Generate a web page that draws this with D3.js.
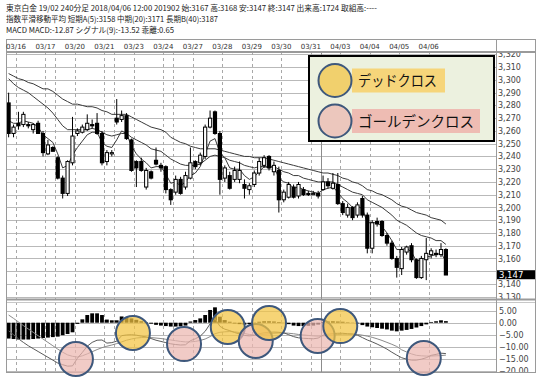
<!DOCTYPE html>
<html><head><meta charset="utf-8">
<script src="https://cdn.jsdelivr.net/npm/d3@7"></script>
<style>body{margin:0;background:#fff;} svg{display:block;}</style>
</head><body>
<svg id="chart" width="544" height="385"></svg>
<script>
// ---------------- data ----------------
const headerLines = [
  "東京白金 19/02 240分足 2018/04/06 12:00 201902 始:3167 高:3168 安:3147 終:3147 出来高:1724 取組高:----",
  "指数平滑移動平均 短期A(5):3158 中期(20):3171 長期B(40):3187",
  "MACD MACD:-12.87 シグナル(9):-13.52 乖離:0.65"
];
const dateTickIndex = [1,7,13,19,25,31,37,43,49,55,61,67,73,79,85];
const dateTickLabels = ["03/16","03/17","03/20","03/21","03/23","03/24","03/27","03/28","03/29","03/30","03/31","04/03","04/04","04/05","04/06"];
const dayBreakIndex = [9,21,33];
const monthBreakIndex = [63];

const open = [3282,3258,3266,3265,3265,3261,3266,3258,3242,3247,
3239,3223,3211,3235,3258,3259,3261,3265,3266,3258,
3236,3242,3270,3269,3272,3253,3236,3236,3216,3228,
3237,3233,3232,3214,3212,3222,3216,3223,3236,3235,
3240,3263,3275,3258,3223,3225,3222,3222,3218,3214,
3218,3227,3233,3240,3228,3229,3206,3208,3216,3209,
3214,3211,3210,3211,3214,3220,3215,3218,3203,3194,
3200,3194,3207,3194,3168,3189,3189,3178,3172,3160,
3152,3165,3170,3159,3145,3159,3163,3164,3163,3167];
const high = [3290,3265,3275,3275,3267,3266,3268,3260,3253,3248,
3240,3225,3237,3271,3262,3265,3273,3269,3274,3260,
3245,3245,3285,3276,3274,3254,3237,3239,3231,3229,
3247,3235,3233,3215,3225,3224,3228,3247,3237,3243,
3265,3276,3276,3260,3233,3228,3232,3236,3222,3219,
3229,3239,3241,3241,3236,3232,3214,3220,3218,3220,
3216,3213,3213,3213,3225,3223,3227,3227,3205,3203,
3201,3204,3209,3196,3190,3192,3190,3180,3174,3162,
3169,3170,3172,3160,3162,3176,3168,3167,3172,3168];
const low = [3255,3255,3261,3263,3262,3258,3258,3240,3241,3244,
3222,3207,3209,3233,3256,3258,3260,3262,3257,3233,
3233,3240,3265,3267,3253,3228,3216,3228,3214,3222,
3233,3228,3211,3202,3210,3210,3214,3222,3230,3233,
3238,3262,3257,3210,3220,3214,3220,3219,3207,3210,
3216,3225,3231,3229,3225,3196,3204,3207,3207,3207,
3209,3209,3210,3207,3213,3215,3214,3202,3194,3192,
3190,3192,3192,3164,3164,3185,3177,3170,3159,3145,
3147,3163,3157,3144,3144,3143,3160,3161,3161,3147];
const close = [3258,3263,3264,3273,3264,3265,3258,3243,3249,3244,
3223,3211,3236,3256,3260,3263,3266,3264,3258,3235,
3243,3243,3267,3272,3254,3229,3231,3229,3229,3223,
3234,3231,3214,3206,3222,3211,3225,3235,3232,3241,
3263,3270,3258,3222,3231,3215,3229,3229,3215,3217,
3227,3236,3239,3231,3233,3206,3212,3218,3208,3218,
3210,3210,3211,3209,3220,3217,3219,3203,3196,3200,
3192,3202,3194,3168,3188,3187,3178,3172,3160,3153,
3167,3169,3159,3145,3160,3164,3166,3163,3167,3147];

const ema5 = [3268,3266,3266,3268,3267,3266,3263,3257,3254,3251,
3242,3231,3233,3241,3247,3252,3257,3259,3259,3251,
3248,3247,3253,3260,3258,3248,3242,3238,3235,3231,
3232,3232,3226,3219,3220,3217,3220,3225,3227,3232,
3242,3252,3254,3243,3239,3231,3230,3230,3225,3222,
3224,3228,3232,3231,3232,3223,3220,3219,3215,3216,
3214,3213,3212,3211,3214,3215,3216,3212,3207,3204,
3200,3201,3199,3188,3188,3188,3185,3180,3174,3167,
3167,3168,3165,3158,3159,3161,3162,3163,3164,3158];
const ema20 = [3301,3297,3294,3292,3290,3287,3284,3281,3278,3274,
3269,3264,3261,3261,3261,3261,3261,3262,3261,3259,
3257,3256,3257,3258,3258,3255,3253,3251,3249,3246,
3245,3244,3241,3238,3236,3234,3233,3233,3233,3234,
3237,3240,3241,3240,3239,3237,3236,3235,3233,3232,
3231,3232,3232,3232,3232,3230,3228,3227,3225,3225,
3223,3222,3221,3220,3220,3220,3220,3218,3216,3214,
3212,3211,3210,3206,3204,3202,3200,3197,3194,3190,
3188,3186,3183,3180,3178,3177,3176,3174,3174,3171];
const ema40 = [3305,3303,3301,3300,3298,3297,3295,3293,3293,3291,
3288,3285,3283,3281,3281,3280,3279,3279,3278,3276,
3275,3273,3273,3273,3273,3271,3269,3267,3265,3263,
3262,3261,3259,3255,3253,3251,3250,3248,3247,3246,
3246,3246,3246,3245,3244,3243,3242,3241,3240,3240,
3239,3239,3239,3238,3237,3236,3235,3234,3233,3232,
3231,3230,3229,3228,3227,3227,3226,3225,3223,3222,
3220,3219,3217,3214,3213,3211,3210,3208,3206,3203,
3201,3200,3198,3196,3195,3194,3192,3191,3190,3187];

const macd = [-3.4,-5.0,-6.7,-8.2,-9.6,-10.8,-12.0,-13.2,-14.4,-15.6,
-16.8,-17.5,-18.1,-18.0,-14.8,-12.4,-9.8,-8.2,-7.3,-7.2,
-8.5,-8.3,-7.7,-5.4,-5.1,-5.0,-5.2,-5.6,-5.9,-6.6,
-7.3,-7.8,-8.3,-8.8,-9.1,-9.3,-9.2,-7.5,-6.7,-5.6,
-3.6,-0.5,1.8,-1.5,-2.7,-3.3,-4.1,-4.7,-5.3,-5.5,
-5.3,-4.6,-4.2,-4.0,-3.9,-4.0,-4.2,-5.0,-5.8,-6.3,
-6.5,-6.6,-6.7,-6.4,-5.2,-4.8,-4.5,-4.4,-4.4,-4.6,
-4.7,-5.2,-6.2,-7.2,-8.0,-8.9,-9.9,-11.0,-12.3,-13.5,
-14.6,-15.2,-15.6,-15.6,-15.2,-14.6,-13.6,-13.2,-12.7,-12.87];
const signal = [3.2,1.8,0.3,-1.2,-2.6,-4.0,-5.4,-6.8,-8.2,-9.6,
-11.0,-12.3,-13.4,-14.0,-14.3,-13.8,-13.0,-12.1,-11.2,-10.4,
-9.8,-9.3,-8.7,-8.0,-7.3,-6.8,-6.4,-6.2,-6.1,-6.2,
-6.4,-6.6,-6.9,-7.2,-7.5,-7.8,-8.0,-8.0,-7.8,-7.4,
-6.8,-5.8,-4.6,-4.0,-3.8,-3.7,-3.8,-4.1,-4.5,-4.9,
-5.1,-5.0,-4.8,-4.6,-4.4,-4.3,-4.3,-4.4,-4.6,-4.9,
-5.1,-5.3,-5.5,-5.6,-5.5,-5.3,-5.1,-4.9,-4.8,-4.8,
-4.8,-4.9,-5.2,-5.6,-6.1,-6.7,-7.4,-8.2,-9.0,-9.9,
-11.3,-12.2,-13.0,-13.6,-13.8,-13.9,-13.9,-13.8,-13.7,-13.52];
const hist = [-6.6,-6.8,-7.0,-7.0,-7.0,-6.8,-6.6,-6.4,-6.2,-6.0,
-5.8,-5.2,-4.7,-4.0,-0.5,1.4,3.2,3.9,3.9,3.2,
1.3,1.0,1.0,2.6,2.2,1.8,1.2,0.6,0.2,-0.4,
-0.9,-1.2,-1.4,-1.6,-1.6,-1.5,-1.2,0.5,1.1,1.8,
3.2,5.3,6.4,2.5,1.1,0.4,-0.3,-0.6,-0.8,-0.6,
-0.2,0.4,0.6,0.6,0.5,0.3,0.1,-0.6,-1.2,-1.4,
-1.4,-1.3,-1.2,-0.8,0.3,0.5,0.6,0.5,0.4,0.2,
0.1,-0.3,-1.0,-1.6,-1.9,-2.2,-2.5,-2.8,-3.3,-3.6,
-3.3,-3.0,-2.6,-2.0,-1.4,-0.7,0.3,0.6,1.0,0.65];

const priceTicks = [3130,3140,3150,3160,3170,3180,3190,3200,3210,3220,3230,3240,3250,3260,3270,3280,3290,3300,3310,3320];
const macdTicks = [5,0,-5,-10,-15,-20];
const lastPrice = 3147;

const crossIndex = [13.7,25.3,35.7,44.6,50.3,53,62.9,67.5,84.5];
const crossValue = [-15.1,-4.3,-8.9,-1.8,-7.6,-0.1,-5.5,-1.4,-14.7];
const crossType  = ["golden","dead","golden","dead","golden","dead","golden","dead","golden"];
const legendLabels = ["デッドクロス","ゴールデンクロス"];
const legendTypes = ["dead","golden"];

// ---------------- layout ----------------
const svg = d3.select("#chart");
const L = 6, PR = 496, AR = 535;
const FT = 39, PT = 52, PB = 299, MT = 302, MB = 372;
const gridCol = "#b9b9b9", frameCol = "#9a9a9a";
const circleFill = {dead: "#f2c441", golden: "#ecb7b0"};
const labelFill = {dead: "#f6d57a", golden: "#eebcb3"};
const circleStroke = "#3e587c";

const x = d3.scaleLinear().domain([0, 89]).range([8.63, 445.9]);
const yP = d3.scaleLinear().domain([3128.2, 3321.9]).range([PB, PT]);
const yM = d3.scaleLinear().domain([-20.54, 8.625]).range([MB, MT]);

svg.append("rect").attr("width", 544).attr("height", 385).attr("fill", "#fff");

// header
const hdrY = [11, 22, 33];
const hdrW = [371, 212, 168];
headerLines.forEach((t, k) => {
  svg.append("text").attr("x", L).attr("y", hdrY[k])
    .attr("font-family", "'Noto Sans CJK JP', sans-serif").attr("font-size", 8)
    .attr("fill", "#222").attr("textLength", hdrW[k]).attr("lengthAdjust", "spacingAndGlyphs")
    .text(t);
});

const defs = svg.append("defs");
defs.append("clipPath").attr("id", "cp").append("rect").attr("x", L).attr("y", PT).attr("width", PR - L).attr("height", PB - PT);
defs.append("clipPath").attr("id", "cm").append("rect").attr("x", L).attr("y", MT).attr("width", PR - L).attr("height", MB - MT);
defs.append("clipPath").attr("id", "cpa").append("rect").attr("x", PR).attr("y", PT + 1).attr("width", AR - PR).attr("height", PB - PT - 1);
defs.append("clipPath").attr("id", "cma").append("rect").attr("x", PR).attr("y", MT).attr("width", AR - PR).attr("height", MB - MT);

// grids
const gP = svg.append("g").attr("clip-path", "url(#cp)");
const gM = svg.append("g").attr("clip-path", "url(#cm)");
gP.selectAll("line.h").data(priceTicks).join("line")
  .attr("x1", L).attr("x2", PR).attr("y1", d => Math.round(yP(d)) + 0.5).attr("y2", d => Math.round(yP(d)) + 0.5)
  .attr("stroke", gridCol).attr("stroke-width", 1);
gM.selectAll("line.h").data(macdTicks).join("line")
  .attr("x1", L).attr("x2", PR).attr("y1", d => Math.round(yM(d)) + 0.5).attr("y2", d => Math.round(yM(d)) + 0.5)
  .attr("stroke", gridCol).attr("stroke-width", 1);
const vBreaks = dateTickIndex.concat(dayBreakIndex);
[[gP, PT, PB], [gM, MT, MB]].forEach(([g, t, b]) => {
  g.append("g").selectAll("line").data(vBreaks).join("line")
    .attr("x1", d => Math.round(x(d + 0.5)) + 0.5).attr("x2", d => Math.round(x(d + 0.5)) + 0.5)
    .attr("y1", t).attr("y2", b).attr("stroke", "#a8a8a8").attr("stroke-dasharray", "3,3");
  g.append("g").selectAll("line").data(monthBreakIndex).join("line")
    .attr("x1", d => Math.round(x(d + 0.5)) + 0.5).attr("x2", d => Math.round(x(d + 0.5)) + 0.5)
    .attr("y1", t).attr("y2", b).attr("stroke", "#8c8c8c");
});

// moving averages
const idx = d3.range(open.length);
[ema40, ema20, ema5].forEach(arr => {
  gP.append("path").datum(idx)
    .attr("d", d3.line().x(i => x(i)).y(i => yP(arr[i])))
    .attr("fill", "none").attr("stroke", "#3a3a3a").attr("stroke-width", 1);
});

// candles
const cg = gP.append("g");
idx.forEach(i => {
  const cx = x(i);
  cg.append("line").attr("x1", cx).attr("x2", cx).attr("y1", yP(high[i])).attr("y2", yP(low[i]))
    .attr("stroke", "#000").attr("stroke-width", 1);
  const up = close[i] >= open[i];
  const top = yP(Math.max(open[i], close[i])), bot = yP(Math.min(open[i], close[i]));
  if (up) {
    cg.append("rect").attr("x", cx - 1.6).attr("y", top).attr("width", 3.2).attr("height", Math.max(bot - top, 1))
      .attr("fill", "#fff").attr("stroke", "#000").attr("stroke-width", 1);
  } else {
    cg.append("rect").attr("x", cx - 2.1).attr("y", top - 0.5).attr("width", 4.2).attr("height", Math.max(bot - top + 1, 1.2))
      .attr("fill", "#000");
  }
});

// MACD histogram & lines
gM.append("g").selectAll("rect").data(idx).join("rect")
  .attr("x", i => x(i) - 1.9).attr("width", 3.8)
  .attr("y", i => Math.min(yM(0), yM(hist[i]))).attr("height", i => Math.abs(yM(hist[i]) - yM(0)))
  .attr("fill", "#000");
gM.append("path").datum(idx).attr("d", d3.line().x(i => x(i)).y(i => yM(signal[i])))
  .attr("fill", "none").attr("stroke", "#8a8a8a").attr("stroke-width", 1);
gM.append("path").datum(idx).attr("d", d3.line().x(i => x(i)).y(i => yM(macd[i])))
  .attr("fill", "none").attr("stroke", "#5a5a5a").attr("stroke-width", 1);

// frame
const fr = svg.append("g").attr("fill", "none");
fr.append("line").attr("x1", L).attr("x2", AR).attr("y1", FT + 0.5).attr("y2", FT + 0.5).attr("stroke", frameCol);
fr.append("line").attr("x1", L).attr("x2", AR).attr("y1", PT).attr("y2", PT).attr("stroke", frameCol).attr("stroke-width", 2);
fr.append("line").attr("x1", L).attr("x2", AR).attr("y1", PB + 0.5).attr("y2", PB + 0.5).attr("stroke", frameCol).attr("stroke-width", 2);
fr.append("line").attr("x1", L).attr("x2", AR).attr("y1", MT + 0.5).attr("y2", MT + 0.5).attr("stroke", "#c8c8c8");
fr.append("line").attr("x1", L).attr("x2", AR).attr("y1", MB + 0.5).attr("y2", MB + 0.5).attr("stroke", frameCol);
[L, PR, AR].forEach(xx => fr.append("line").attr("x1", xx + 0.5).attr("x2", xx + 0.5).attr("y1", FT).attr("y2", MB + 1).attr("stroke", frameCol));

// date labels
svg.append("g").selectAll("text").data(dateTickIndex).join("text")
  .attr("x", d => x(d + 0.5)).attr("y", 48.5).attr("text-anchor", "middle")
  .attr("font-family", "'DejaVu Sans', sans-serif").attr("font-size", 7).attr("fill", "#333")
  .text((d, k) => dateTickLabels[k]);

// axes (the tick label hidden under the last-price marker is not drawn)
const ly = yP(lastPrice);
const priceLabelTicks = priceTicks.filter(t => Math.abs(yP(t) - ly) > 7);
const axP = svg.append("g").attr("clip-path", "url(#cpa)").append("g").attr("transform", `translate(${PR},0)`)
  .call(d3.axisRight(yP).tickValues(priceLabelTicks).tickFormat(d3.format(",")).tickSize(0).tickPadding(2));
const axM = svg.append("g").attr("clip-path", "url(#cma)").append("g").attr("transform", `translate(${PR + 1},0)`)
  .call(d3.axisRight(yM).tickValues(macdTicks).tickFormat(d3.format(".2f")).tickSize(0).tickPadding(2));
[axP, axM].forEach(a => {
  a.select(".domain").remove();
  a.selectAll("text").attr("font-family", "'DejaVu Sans', sans-serif").attr("font-size", 8).attr("fill", "#444");
});
// last price marker
svg.append("rect").attr("x", PR + 1).attr("y", ly - 4.8).attr("width", AR - PR - 1).attr("height", 9).attr("fill", "#000");
svg.append("text").attr("x", PR + 3).attr("y", ly + 3.4)
  .attr("font-family", "'DejaVu Sans', sans-serif").attr("font-size", 8.5).attr("fill", "#fff")
  .text(d3.format(",")(lastPrice));

// cross circles
svg.append("g").selectAll("circle").data(crossIndex).join("circle")
  .attr("cx", d => x(d)).attr("cy", (d, k) => yM(crossValue[k])).attr("r", 17)
  .attr("fill", (d, k) => circleFill[crossType[k]]).attr("fill-opacity", 0.72)
  .attr("stroke", circleStroke).attr("stroke-width", 2);

// legend
const lg = svg.append("g");
lg.append("rect").attr("x", 309).attr("y", 56).attr("width", 185).attr("height", 85)
  .attr("fill", "#ecf1df").attr("stroke", "#000").attr("stroke-width", 2);
const lgCy = [80.5, 121];
const lgBoxW = [93, 128];
const lgTextW = [79, 116];
legendLabels.forEach((t, k) => {
  lg.append("rect").attr("x", 352).attr("y", lgCy[k] - 12).attr("width", lgBoxW[k]).attr("height", 24)
    .attr("fill", labelFill[legendTypes[k]]);
  lg.append("circle").attr("cx", 335).attr("cy", lgCy[k]).attr("r", 16.5)
    .attr("fill", circleFill[legendTypes[k]]).attr("fill-opacity", 0.72)
    .attr("stroke", circleStroke).attr("stroke-width", 2);
  lg.append("text").attr("x", 358).attr("y", lgCy[k] + 5.5)
    .attr("font-family", "'Noto Sans CJK JP', sans-serif").attr("font-size", 14.5).attr("fill", "#111")
    .attr("textLength", lgTextW[k]).attr("lengthAdjust", "spacingAndGlyphs")
    .text(t);
});
</script>
</body></html>
